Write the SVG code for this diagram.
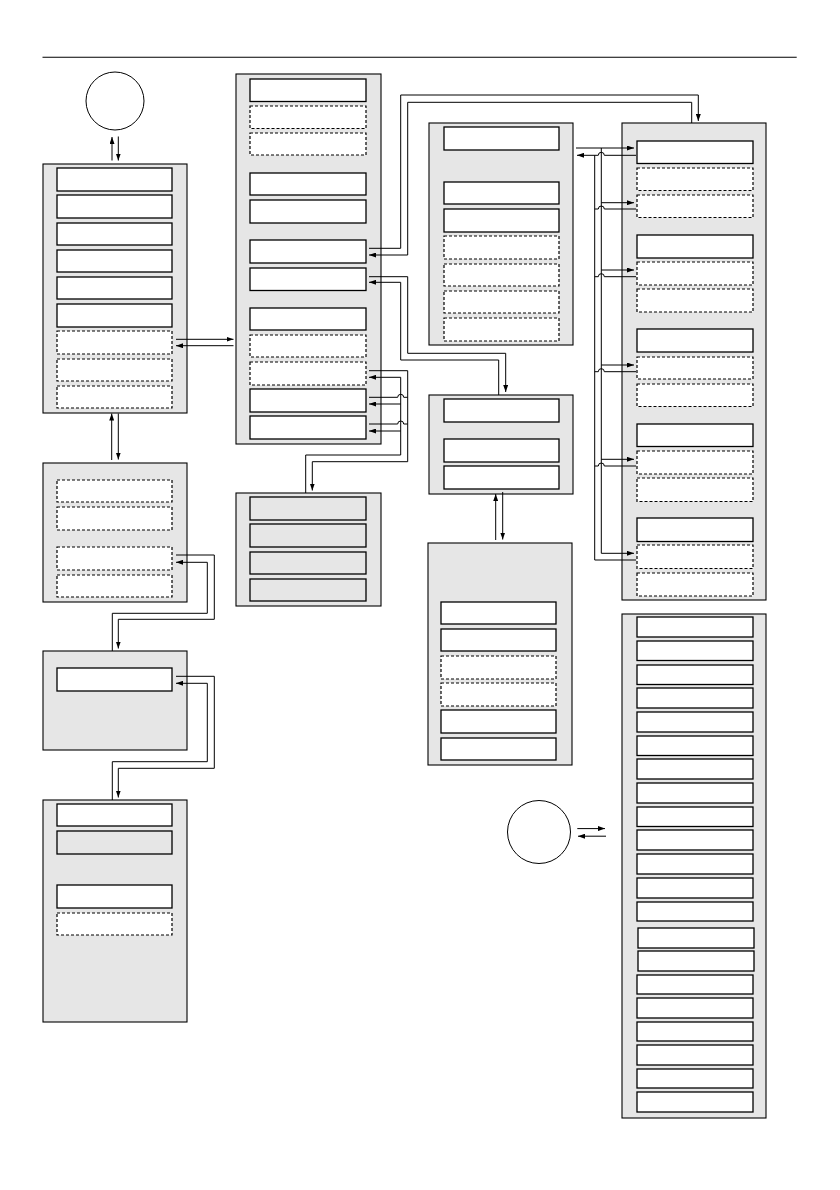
<svg xmlns="http://www.w3.org/2000/svg" width="840" height="1190" viewBox="0 0 840 1190">
<style>
.outer{fill:#e6e6e6;stroke:#000;stroke-width:1.1}
.row{fill:#fff;stroke:#000;stroke-width:1.3}
.grow{fill:#e6e6e6;stroke:#000;stroke-width:1.3}
.dash{fill:#fff;stroke:#000;stroke-width:1.2;stroke-dasharray:3 2}
.circ{fill:#fff;stroke:#000;stroke-width:1}
.conn{fill:none;stroke:#000;stroke-width:1}
.arr{fill:none;stroke:#000;stroke-width:1;marker-end:url(#ah)}
</style>
<defs>
<marker id="ah" markerUnits="userSpaceOnUse" markerWidth="7" markerHeight="5" refX="7" refY="2.5" orient="auto">
<path d="M0,0 L7,2.5 L0,5 z" fill="#000"/>
</marker>
</defs>
<rect width="840" height="1190" fill="#fff"/>
<line x1="42.5" y1="57.3" x2="796.7" y2="57.3" stroke="#000" stroke-width="1.1"/>

<g id="circle1"><circle class="circ" cx="115" cy="101" r="29"/></g>
<g id="circle2"><circle class="circ" cx="539" cy="832" r="31.5"/></g>

<g id="box1">
<rect class="outer" x="43" y="164" width="144" height="249"/>
<rect class="row" x="57" y="168" width="115" height="23"/>
<rect class="row" x="57" y="195" width="115" height="23"/>
<rect class="row" x="57" y="223" width="115" height="22"/>
<rect class="row" x="57" y="250" width="115" height="22"/>
<rect class="row" x="57" y="277" width="115" height="22"/>
<rect class="row" x="57" y="304" width="115" height="23"/>
<rect class="dash" x="57" y="331" width="115" height="23"/>
<rect class="dash" x="57" y="359" width="115" height="22"/>
<rect class="dash" x="57" y="386" width="115" height="22"/>
</g>

<g id="box1b">
<rect class="outer" x="43" y="463" width="144" height="139"/>
<rect class="dash" x="57" y="480" width="115" height="22"/>
<rect class="dash" x="57" y="507" width="115" height="23"/>
<rect class="dash" x="57" y="547" width="115" height="23"/>
<rect class="dash" x="57" y="575" width="115" height="22"/>
</g>

<g id="box1c">
<rect class="outer" x="43" y="651" width="144" height="99"/>
<rect class="row" x="57" y="668" width="115" height="23"/>
</g>

<g id="box5">
<rect class="outer" x="43" y="800" width="144" height="222"/>
<rect class="row" x="57" y="804" width="115" height="22"/>
<rect class="grow" x="57" y="831" width="115" height="23"/>
<rect class="row" x="57" y="885" width="115" height="23"/>
<rect class="dash" x="57" y="913" width="115" height="22"/>
</g>

<g id="box2">
<rect class="outer" x="236" y="74" width="145" height="370"/>
<rect class="row" x="250" y="79" width="116" height="22.5"/>
<rect class="dash" x="250" y="106" width="116" height="22.5"/>
<rect class="dash" x="250" y="133" width="116" height="22"/>
<rect class="row" x="250" y="173" width="116" height="22"/>
<rect class="row" x="250" y="200" width="116" height="23"/>
<rect class="row" x="250" y="240" width="116" height="23"/>
<rect class="row" x="250" y="268" width="116" height="22.5"/>
<rect class="row" x="250" y="308" width="116" height="22"/>
<rect class="dash" x="250" y="335" width="116" height="22"/>
<rect class="dash" x="250" y="362" width="116" height="23"/>
<rect class="row" x="250" y="389" width="116" height="23"/>
<rect class="row" x="250" y="416" width="116" height="23"/>
</g>

<g id="box2b">
<rect class="outer" x="236" y="493" width="145" height="113"/>
<rect class="grow" x="250" y="497" width="116" height="23"/>
<rect class="grow" x="250" y="524" width="116" height="23"/>
<rect class="grow" x="250" y="552" width="116" height="22"/>
<rect class="grow" x="250" y="579" width="116" height="22"/>
</g>

<g id="box3a">
<rect class="outer" x="429" y="123" width="144" height="222"/>
<rect class="row" x="444" y="127" width="115" height="23"/>
<rect class="row" x="444" y="182" width="115" height="22"/>
<rect class="row" x="444" y="209" width="115" height="23"/>
<rect class="dash" x="444" y="236" width="115" height="23"/>
<rect class="dash" x="444" y="264" width="115" height="22"/>
<rect class="dash" x="444" y="291" width="115" height="22"/>
<rect class="dash" x="444" y="318" width="115" height="23"/>
</g>

<g id="box3b">
<rect class="outer" x="429" y="395" width="144" height="99"/>
<rect class="row" x="444" y="399" width="115" height="23"/>
<rect class="row" x="444" y="439" width="115" height="23"/>
<rect class="row" x="444" y="466" width="115" height="23"/>
</g>

<g id="box3c">
<rect class="outer" x="428" y="543" width="144" height="222"/>
<rect class="row" x="441" y="602" width="115" height="22"/>
<rect class="row" x="441" y="629" width="115" height="22"/>
<rect class="dash" x="441" y="656" width="115" height="23"/>
<rect class="dash" x="441" y="683" width="115" height="23"/>
<rect class="row" x="441" y="710" width="115" height="23"/>
<rect class="row" x="441" y="738" width="115" height="22"/>
</g>

<g id="box4">
<rect class="outer" x="622" y="123" width="144" height="477"/>
<rect class="row" x="637" y="141" width="116" height="22.5"/>
<rect class="dash" x="637" y="168" width="116" height="22.5"/>
<rect class="dash" x="637" y="195" width="116" height="22.5"/>
<rect class="row" x="637" y="235" width="116" height="23"/>
<rect class="dash" x="637" y="262" width="116" height="23"/>
<rect class="dash" x="637" y="289" width="116" height="23"/>
<rect class="row" x="637" y="329" width="116" height="23"/>
<rect class="dash" x="637" y="357" width="116" height="22"/>
<rect class="dash" x="637" y="384" width="116" height="22.5"/>
<rect class="row" x="637" y="424" width="116" height="22.5"/>
<rect class="dash" x="637" y="451" width="116" height="23"/>
<rect class="dash" x="637" y="478" width="116" height="23.5"/>
<rect class="row" x="637" y="518" width="116" height="23.5"/>
<rect class="dash" x="637" y="545" width="116" height="23.5"/>
<rect class="dash" x="637" y="573" width="116" height="23"/>
</g>

<g id="box6">
<rect class="outer" x="622" y="614" width="144" height="504"/>
<rect class="row" x="637" y="617" width="116" height="20"/>
<rect class="row" x="637" y="641" width="116" height="19.5"/>
<rect class="row" x="637" y="665" width="116" height="19.5"/>
<rect class="row" x="637" y="688" width="116" height="20"/>
<rect class="row" x="637" y="712" width="116" height="20"/>
<rect class="row" x="637" y="736" width="116" height="19.5"/>
<rect class="row" x="637" y="759" width="116" height="20"/>
<rect class="row" x="637" y="783" width="116" height="20"/>
<rect class="row" x="637" y="807" width="116" height="19.5"/>
<rect class="row" x="637" y="830" width="116" height="20"/>
<rect class="row" x="637" y="854" width="116" height="20"/>
<rect class="row" x="637" y="878" width="116" height="20"/>
<rect class="row" x="637" y="902" width="116" height="19"/>
<rect class="row" x="638" y="928" width="116" height="20"/>
<rect class="row" x="638" y="951" width="116" height="20"/>
<rect class="row" x="637" y="975" width="116" height="19"/>
<rect class="row" x="637" y="998" width="116" height="20"/>
<rect class="row" x="637" y="1022" width="116" height="19"/>
<rect class="row" x="637" y="1045" width="116" height="20"/>
<rect class="row" x="637" y="1069" width="116" height="19"/>
<rect class="row" x="637" y="1092" width="116" height="20"/>
</g>

<g id="connectors">
<path class="arr" d="M112,160.5 V137"/>
<path class="arr" d="M118.3,136.5 V160.5"/>
<path class="arr" d="M176,339.3 H233.5"/>
<path class="arr" d="M233.5,345.7 H176"/>
<path class="arr" d="M111.7,460 V413.5"/>
<path class="arr" d="M118.3,413.5 V459.5"/>
<path class="arr" d="M176,555 H214.3 V619.3 H118.3 V648.5"/>
<path class="arr" d="M112.3,651 V613.3 H207.3 V562.3 H176"/>
<path class="arr" d="M176,676.3 H214.3 V768.3 H118.3 V797.5"/>
<path class="arr" d="M112.3,800 V761.7 H207.3 V683.3 H176"/>
<path class="arr" d="M369,248.3 H400.7 V95 H698.3 V121"/>
<path class="arr" d="M691.7,123 V102.3 H407.7 V255 H369"/>
<path class="arr" d="M369,276.7 H407.7 V353.3 H505.7 V392"/>
<path class="arr" d="M498.7,395 V360 H400.7 V282.3 H369"/>
<path class="conn" d="M369,370.7 H407.7"/>
<path class="conn" d="M369,397.3 H397.7 a3,3 0 0 1 6,0 H407.7"/>
<path class="conn" d="M369,424 H397.7 a3,3 0 0 1 6,0 H407.7"/>
<path class="arr" d="M407.7,370.7 V461.7 H312.3 V490.5"/>
<path class="conn" d="M305.7,493 V455 H400.7 V377.3"/>
<path class="arr" d="M400.7,377.3 H369"/>
<path class="arr" d="M400.7,404 H369"/>
<path class="arr" d="M400.7,431 H369"/>
<path class="arr" d="M495.7,540 V494"/>
<path class="arr" d="M502.7,492 V539.5"/>
<path class="arr" d="M576,148 H634"/>
<path class="conn" d="M601.3,148 V553.3"/>
<path class="arr" d="M601.3,202.7 H634"/>
<path class="arr" d="M601.3,270 H634"/>
<path class="arr" d="M601.3,365 H634"/>
<path class="arr" d="M601.3,459.3 H634"/>
<path class="arr" d="M601.3,553.3 H634"/>
<path class="arr" d="M636,155.3 H604.3 a3,3 0 0 0 -6,0 H577"/>
<path class="conn" d="M594.7,155.3 V560"/>
<path class="conn" d="M636,209 H604.3 a3,3 0 0 0 -6,0 H594.7"/>
<path class="conn" d="M636,276.7 H604.3 a3,3 0 0 0 -6,0 H594.7"/>
<path class="conn" d="M636,371.7 H604.3 a3,3 0 0 0 -6,0 H594.7"/>
<path class="conn" d="M636,466 H604.3 a3,3 0 0 0 -6,0 H594.7"/>
<path class="conn" d="M636,560 H594.7"/>
<path class="arr" d="M577.3,828.6 H605"/>
<path class="arr" d="M606,836.2 H578"/>
</g>
</svg>
